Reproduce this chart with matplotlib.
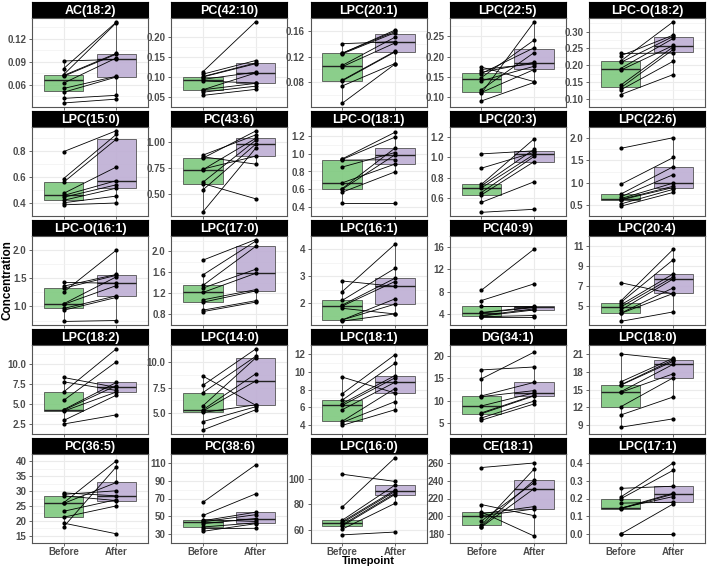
import matplotlib.pyplot as plt
import numpy as np

plt.rcParams['font.family'] = ['Liberation Sans', 'DejaVu Sans']

lipids = ["AC(18:2)", "PC(42:10)", "LPC(20:1)", "LPC(22:5)", "LPC-O(18:2)",
          "LPC(15:0)", "PC(43:6)", "LPC-O(18:1)", "LPC(20:3)", "LPC(22:6)",
          "LPC-O(16:1)", "LPC(17:0)", "LPC(16:1)", "PC(40:9)", "LPC(20:4)",
          "LPC(18:2)", "LPC(14:0)", "LPC(18:1)", "DG(34:1)", "LPC(18:0)",
          "PC(36:5)", "PC(38:6)", "LPC(16:0)", "CE(18:1)", "LPC(17:1)"]

# paired values, same subject at same index
before_vals = [
    [0.091, 0.081, 0.073, 0.072, 0.071, 0.062, 0.055, 0.050, 0.042, 0.036],
    [0.113, 0.107, 0.101, 0.100, 0.094, 0.090, 0.068, 0.068, 0.062, 0.054],
    [0.140, 0.125, 0.125, 0.124, 0.106, 0.104, 0.083, 0.082, 0.074, 0.047],
    [0.174, 0.168, 0.161, 0.158, 0.148, 0.140, 0.118, 0.111, 0.109, 0.090],
    [0.235, 0.228, 0.212, 0.208, 0.190, 0.185, 0.140, 0.132, 0.126, 0.112],
    [0.795, 0.588, 0.560, 0.474, 0.458, 0.444, 0.421, 0.402, 0.386],
    [0.875, 0.859, 0.846, 0.740, 0.734, 0.612, 0.600, 0.538, 0.324],
    [0.941, 0.935, 0.928, 0.850, 0.672, 0.607, 0.600, 0.567, 0.444],
    [1.035, 0.894, 0.734, 0.720, 0.700, 0.654, 0.631, 0.557, 0.459],
    [1.77, 0.96, 0.74, 0.68, 0.64, 0.62, 0.61, 0.52, 0.47],
    [1.427, 1.36, 1.323, 1.255, 1.047, 1.036, 0.964, 0.932, 0.734],
    [1.83, 1.55, 1.35, 1.30, 1.217, 1.077, 1.033, 0.882, 0.854],
    [2.82, 2.42, 2.094, 1.92, 1.88, 1.80, 1.365, 1.365, 1.32],
    [8.25, 6.4, 5.35, 4.25, 4.15, 3.7, 3.6, 3.5, 3.45],
    [7.33, 5.48, 5.34, 5.10, 4.89, 4.59, 4.27, 4.25, 3.46],
    [8.31, 7.77, 6.5, 5.45, 4.29, 4.22, 4.10, 2.94, 2.5],
    [8.64, 7.73, 7.01, 5.71, 5.32, 5.2, 5.06, 4.16, 3.34],
    [9.4, 7.51, 6.8, 6.41, 6.21, 5.72, 4.42, 4.29, 3.97],
    [16.9, 14.9, 11.06, 10.9, 8.8, 7.25, 7.06, 6.1, 5.6],
    [21.0, 16.28, 15.77, 15.72, 14.61, 14.51, 12.08, 10.7, 8.64],
    [29.4, 28.9, 28.4, 26.05, 25.85, 23.2, 21.2, 19.2, 17.95],
    [65.7, 50.9, 46.3, 45.0, 43.8, 41.7, 38.0, 36.2, 33.1],
    [103.4, 77.8, 67.6, 66.5, 65.6, 64.1, 63.2, 60.7, 56.3],
    [254.8, 213.2, 204.8, 203.0, 200.7, 194.7, 189.9, 188.5, 187.9],
    [0.257, 0.208, 0.198, 0.174, 0.146, 0.145, 0.1426, 0.0, 0.0],
]

after_vals = [
    [0.093, 0.142, 0.141, 0.101, 0.100, 0.095, 0.071, 0.070, 0.046, 0.041],
    [0.238, 0.141, 0.135, 0.133, 0.112, 0.085, 0.110, 0.084, 0.077, 0.069],
    [0.143, 0.161, 0.159, 0.157, 0.150, 0.141, 0.128, 0.127, 0.109, 0.108],
    [0.138, 0.182, 0.186, 0.222, 0.241, 0.176, 0.210, 0.168, 0.286, 0.136],
    [0.236, 0.290, 0.330, 0.286, 0.280, 0.259, 0.255, 0.247, 0.212, 0.172],
    [0.956, 0.928, 0.891, 0.677, 0.572, 0.540, 0.514, 0.453, 0.400],
    [1.071, 0.788, 1.109, 0.865, 1.038, 1.019, 0.452, 0.981, 0.942],
    [1.240, 1.185, 0.932, 1.013, 0.883, 1.062, 0.987, 0.795, 0.444],
    [1.065, 1.050, 1.183, 1.080, 1.030, 1.010, 0.959, 0.760, 0.489],
    [2.01, 1.565, 1.36, 1.18, 0.99, 0.92, 0.89, 0.85, 0.78],
    [1.411, 1.568, 1.552, 2.0, 1.526, 1.370, 1.188, 1.160, 0.750],
    [2.22, 2.19, 2.09, 1.657, 1.58, 1.27, 1.245, 1.06, 1.033],
    [2.62, 4.19, 3.29, 2.92, 2.80, 1.59, 2.15, 1.953, 1.59],
    [15.65, 9.4, 5.35, 5.25, 5.15, 4.9, 4.7, 3.7, 3.45],
    [6.2, 10.69, 9.64, 8.22, 7.92, 7.71, 6.82, 6.26, 4.41],
    [7.07, 6.69, 11.9, 10.28, 7.69, 7.3, 6.5, 6.1, 3.64],
    [5.78, 11.3, 10.58, 10.42, 8.86, 8.15, 5.81, 5.62, 5.32],
    [7.61, 11.9, 10.93, 9.56, 9.3, 8.81, 8.1, 6.63, 5.72],
    [17.56, 20.9, 14.1, 12.25, 11.75, 11.2, 11.06, 9.9, 9.25],
    [20.07, 20.28, 20.02, 19.77, 19.26, 17.65, 16.99, 13.75, 10.06],
    [28.4, 30.1, 26.8, 40.2, 32.9, 27.1, 25.0, 15.6, 38.2],
    [107.8, 75.2, 44.2, 54.6, 51.8, 47.5, 42.6, 36.5, 41.7],
    [97.8, 116.1, 94.9, 91.0, 90.0, 88.5, 87.6, 80.7, 58.5],
    [259.9, 200.7, 177.8, 210.9, 208.2, 237.9, 253.1, 240.6, 231.1],
    [0.269, 0.40, 0.359, 0.179, 0.211, 0.23, 0.2246, 0.170, 0.0],
]

y_ticks = [
    ["0.06", "0.09", "0.12"],
    ["0.05", "0.10", "0.15", "0.20"],
    ["0.08", "0.12", "0.16"],
    ["0.10", "0.15", "0.20", "0.25"],
    ["0.10", "0.15", "0.20", "0.25", "0.30"],
    ["0.4", "0.6", "0.8"],
    ["0.50", "0.75", "1.00"],
    ["0.4", "0.6", "0.8", "1.0", "1.2"],
    ["0.6", "0.8", "1.0", "1.2"],
    ["0.5", "1.0", "1.5", "2.0"],
    ["1.0", "1.5", "2.0"],
    ["0.8", "1.2", "1.6", "2.0"],
    ["2", "3", "4"],
    ["4", "8", "12", "16"],
    ["5", "7", "9", "11"],
    ["2.5", "5.0", "7.5", "10.0"],
    ["5.0", "7.5", "10.0"],
    ["4", "6", "8", "10", "12"],
    ["5", "10", "15", "20"],
    ["9", "12", "15", "18", "21"],
    ["15", "20", "25", "30", "35", "40"],
    ["30", "50", "70", "90", "110"],
    ["60", "80", "100"],
    ["180", "200", "220", "240", "260"],
    ["0.0", "0.1", "0.2", "0.3", "0.4"],
]

timepoints = ["Before", "After"]
box_colors = ["#7FC97F", "#BEAED4"]

W, H = 708, 566
fig = plt.figure(figsize=(W / 100, H / 100), dpi=100)


def rect(left, top, w, h):
    return [left / W, 1 - (top + h) / H, w / W, h / H]


for i, name in enumerate(lipids):
    r, c = divmod(i, 5)
    left = 32 + 139.25 * c
    top = 2 + 109 * r
    # strip
    sax = fig.add_axes(rect(left, top, 116, 16))
    sax.set_facecolor("black")
    sax.set_xticks([])
    sax.set_yticks([])
    for s in sax.spines.values():
        s.set_color("black")
    sax.text(0.5, 0.45, name, color="white", fontsize=9, fontweight="bold",
             ha="center", va="center", transform=sax.transAxes)

    ax = fig.add_axes(rect(left, top + 16, 116, 89))
    b = np.array(before_vals[i])
    a = np.array(after_vals[i])

    bp = ax.boxplot([b, a], positions=[1, 2], widths=0.75, patch_artist=True,
                    showfliers=False, whis=1.5, zorder=2,
                    boxprops=dict(edgecolor="#444444", linewidth=0.6),
                    whiskerprops=dict(color="#444444", linewidth=0.6),
                    capprops=dict(linewidth=0),
                    medianprops=dict(color="#222222", linewidth=1.0))
    for patch, col in zip(bp["boxes"], box_colors):
        patch.set_facecolor(col)
        patch.set_alpha(0.9)
        patch.set_edgecolor("#444444")

    for bv, av in zip(b, a):
        ax.plot([1, 2], [bv, av], color="black", linewidth=0.6, marker="o",
                markersize=2, zorder=3)

    allv = np.concatenate([b, a])
    lo, hi = allv.min(), allv.max()
    pad = (hi - lo) * 0.05
    ax.set_ylim(lo - pad, hi + pad)
    ax.set_xlim(0.4, 2.6)

    ticks = [float(t) for t in y_ticks[i]]
    ax.set_yticks(ticks)
    ax.set_yticklabels(y_ticks[i])
    step = ticks[1] - ticks[0]
    minors = [t + step / 2 for t in [ticks[0] - step] + ticks]
    ax.set_yticks(minors, minor=True)
    ax.tick_params(axis="y", which="minor", length=0)
    ax.grid(True, which="major", color="#EBEBEB", linewidth=0.8, zorder=0)
    ax.grid(True, which="minor", axis="y", color="#F2F2F2", linewidth=0.5, zorder=0)
    ax.set_axisbelow(True)

    ax.set_xticks([1, 2])
    if r == 4:
        ax.set_xticklabels(timepoints)
    else:
        ax.set_xticklabels([])
        ax.tick_params(axis="x", length=0)
    ax.tick_params(axis="both", which="major", labelsize=7, colors="#4D4D4D",
                   length=2.5, width=0.6, pad=1.5)
    if r == 4:
        ax.tick_params(axis="x", length=2, pad=1)
    for lab in ax.get_xticklabels() + ax.get_yticklabels():
        lab.set_fontweight("bold")
    for s in ax.spines.values():
        s.set_color("#555555")
        s.set_linewidth(0.8)

fig.text(8 / W, 1 - 280 / H, "Concentration", rotation=90, fontsize=8.5,
         fontweight="bold", ha="center", va="center")
fig.text(368 / W, 1 - 565.5 / H, "Timepoint", fontsize=8, fontweight="bold",
         ha="center", va="bottom")

fig.savefig("out.png", dpi=100)
